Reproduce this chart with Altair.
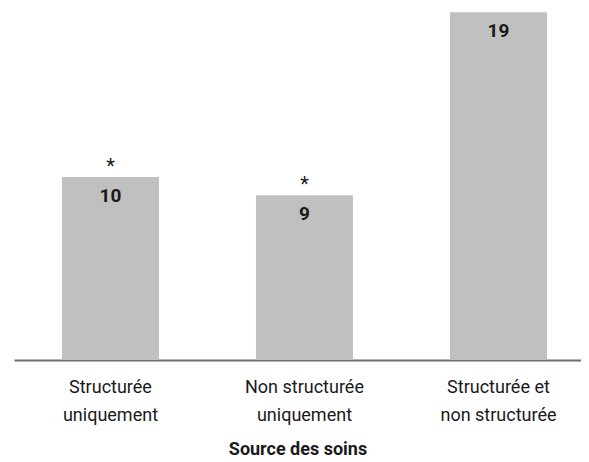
import altair as alt
import pandas as pd

categories = ["Structurée\nuniquement", "Non structurée\nuniquement", "Structurée et\nnon structurée"]
values = [10, 9, 19]
flags = ["*", "*", ""]

FONT = "Roboto, Liberation Sans, sans-serif"

df = pd.DataFrame({"cat": categories, "val": values, "flag": flags})

x = alt.X(
    "cat:N",
    sort=categories,
    scale=alt.Scale(paddingInner=0.5, paddingOuter=0.2113, align=0.585),
    axis=alt.Axis(
        title="Source des soins",
        labelAngle=0,
        labelExpr="split(datum.label, '\\n')",
        labelFont=FONT,
        labelFontSize=18,
        labelLineHeight=28,
        labelColor="#1a1a1a",
        labelPadding=18,
        labelBaseline="top",
        ticks=False,
        tickSize=0,
        domainColor="#6e6e6e",
        domainWidth=2,
        titleFont=FONT,
        titleFontSize=18,
        titleFontWeight="bold",
        titleColor="#1a1a1a",
        titlePadding=16,
    ),
)
y = alt.Y("val:Q", scale=alt.Scale(domain=[0, 19.235], nice=False, zero=True), axis=None)

bars = alt.Chart(df).mark_bar(color="#c0c0c0").encode(x=x, y=y)

nums = alt.Chart(df).mark_text(
    font=FONT, fontSize=19, fontWeight="bold", color="#1a1a1a", baseline="alphabetic", dy=25
).encode(x=x, y=y, text="val:Q")

stars = alt.Chart(df).mark_text(
    font=FONT, fontSize=20, color="#1a1a1a", baseline="alphabetic", dy=-4
).encode(x=x, y=y, text="flag:N")

chart = (
    alt.layer(bars, nums, stars)
    .properties(
        width=567,
        height=352,
        autosize=alt.AutoSizeParams(type="none"),
        padding={"left": 6, "top": 0, "right": 0, "bottom": 101},
    )
    .configure_view(strokeWidth=0, strokeOpacity=0, fill="white")
)

chart.save("out.html", embed_options={"renderer": "svg", "actions": False})
